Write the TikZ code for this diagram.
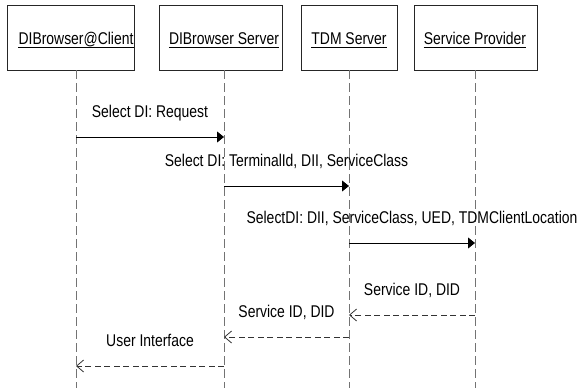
\documentclass[tikz,border=0pt]{standalone}
\usepackage{fontspec}
\setmainfont{Liberation Sans}[FakeStretch=0.82]
\usetikzlibrary{arrows.meta}
\begin{document}
\begin{tikzpicture}[x=1pt,y=-1pt,
  actor/.style={draw=black!85, line width=0.8pt, inner sep=0pt, minimum height=65pt},
  actorlabel/.style={font=\fontsize{17}{20}\selectfont, inner sep=0pt, anchor=base},
  lifeline/.style={draw=black!55, line width=0.8pt, dash pattern=on 9pt off 4pt},
  call/.style={draw=black, line width=0.8pt, -{Triangle[length=7pt,width=11pt]}},
  reply/.style={draw=black!80, line width=0.8pt, dash pattern=on 6pt off 3.5pt,
    -{Straight Barb[length=7pt,width=12pt,line width=0.8pt]}},
  msg/.style={font=\fontsize{17}{20}\selectfont, inner sep=0pt, anchor=base, yshift=20pt}
]
\useasboundingbox (0,0) rectangle (582,388);

% participant boxes
\node[actor, minimum width=127pt] (b1) at (70.5,37.5) {};
\node[actor, minimum width=123pt] (b2) at (220.5,37.5) {};
\node[actor, minimum width=96pt]  (b3) at (349,37.5) {};
\node[actor, minimum width=123pt] (b4) at (475.5,37.5) {};

% lifeline anchors
\coordinate (c1) at (76,70);
\coordinate (c2) at (224,70);
\coordinate (c3) at (349,70);
\coordinate (c4) at (475,70);
\coordinate (bottom) at (0,388);

% participant names, underlined
\foreach \c/\t [count=\i] in {c1/DIBrowser@Client, c2/DIBrowser Server, c3/TDM Server, c4/Service Provider}{
  \node[actorlabel] (l\i) at (\c |- 0,44) {\t};
  \draw[line width=0.9pt] ([yshift=-3pt]l\i.base west) -- ([yshift=-3pt]l\i.base east);
}

% lifelines
\foreach \c in {c1,c2,c3,c4}
  \draw[lifeline] (\c) -- (\c |- bottom);

% message rows
\coordinate (r1) at (0,137);
\coordinate (r2) at (0,186);
\coordinate (r3) at (0,243);
\coordinate (r4) at (0,315);
\coordinate (r5) at (0,337);
\coordinate (r6) at (0,366);

% calls
\draw[call] (c1 |- r1) -- (c2 |- r1) node[msg, midway] {Select DI: Request};
\draw[call] (c2 |- r2) -- (c3 |- r2) node[msg, midway] {Select DI: TerminalId, DII, ServiceClass};
\draw[call] (c3 |- r3) -- (c4 |- r3) node[msg, midway] {SelectDI: DII, ServiceClass, UED, TDMClientLocation};

% replies
\draw[reply] (c4 |- r4) -- (c3 |- r4) node[msg, midway] {Service ID, DID};
\draw[reply] (c3 |- r5) -- (c2 |- r5) node[msg, midway] {Service ID, DID};
\draw[reply] (c2 |- r6) -- (c1 |- r6) node[msg, midway] {User Interface};
\end{tikzpicture}
\end{document}
